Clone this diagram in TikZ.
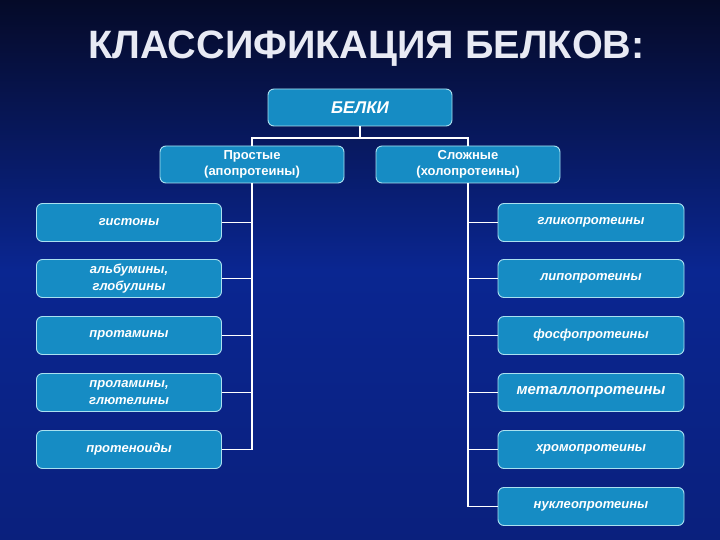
\documentclass[tikz,border=0pt]{standalone}
\usepackage{fontspec}
\setmainfont{Liberation Sans}
\definecolor{bgtop}{RGB}{5,10,40}
\definecolor{bgmid}{RGB}{10,38,145}
\definecolor{bgbot}{RGB}{10,32,125}
\definecolor{boxfill}{RGB}{22,140,196}
\definecolor{boxline}{RGB}{170,225,240}
\definecolor{titlecol}{RGB}{232,234,244}
\tikzset{
  pbox/.style={draw=boxline, line width=0.9pt, fill=boxfill, rounded corners=6pt,
    minimum width=184pt, minimum height=37pt, inner sep=1pt, align=center,
    text=white, font=\fontsize{13}{16}\selectfont\bfseries},
  leaf/.style={pbox, minimum width=185pt, minimum height=38pt,
    font=\fontsize{13}{16.5}\selectfont\bfseries\itshape},
  conn/.style={draw=white, line width=1.6pt}
}
\begin{document}
\begin{tikzpicture}[x=1pt,y=-1pt]
\shade[top color=bgtop, bottom color=bgbot, middle color=bgmid] (0,0) rectangle (720,540);
\useasboundingbox (0,0) rectangle (720,540);
\node[text=titlecol, font=\fontsize{39.6}{42}\selectfont\bfseries, anchor=base, inner sep=0pt] (title) at (366.5,59) {КЛАССИФИКАЦИЯ БЕЛКОВ:};
\node[pbox, font=\fontsize{17}{18}\selectfont\bfseries\itshape] (belki) at (360,107.5) {БЕЛКИ};
\node[pbox] (prost) at (252,164.5) {Простые\\(апопротеины)};
\node[pbox] (slozh) at (468,164.5) {Сложные\\(холопротеины)};
\coordinate (bus) at (360,138);
\node[leaf] (l1) at (129,222.5) {гистоны};
\node[leaf] (l2) at (129,278.5) {альбумины,\\глобулины};
\node[leaf] (l3) at (129,335.5) {протамины};
\node[leaf] (l4) at (129,392.5) {проламины,\\глютелины};
\node[leaf] (l5) at (129,449.5) {протеноиды};
\node[leaf, minimum width=186pt] (r1) at (591,222.5) {гликопротеины};
\node[leaf, minimum width=186pt] (r2) at (591,278.5) {липопротеины};
\node[leaf, minimum width=186pt] (r3) at (591,335.5) {фосфопротеины};
\node[leaf, minimum width=186pt, font=\fontsize{15}{16}\selectfont\bfseries\itshape] (r4) at (591,392.5) {металлопротеины};
\node[leaf, minimum width=186pt] (r5) at (591,449.5) {хромопротеины};
\node[leaf, minimum width=186pt] (r6) at (591,506.5) {нуклеопротеины};
\draw[conn] (belki.south) -- (bus);
\draw[conn] (prost.north) -- (prost.north |- bus) -- (slozh.north |- bus) -- (slozh.north);
\draw[conn] (prost.south) -- (prost.south |- l5.east);
\draw[conn] (slozh.south) -- (slozh.south |- r6.west);
\foreach \n in {l1,l2,l3,l4,l5}{\draw[conn] (\n.east) -- (\n.east -| prost.south);}
\foreach \n in {r1,r2,r3,r4,r5,r6}{\draw[conn] (\n.west) -- (\n.west -| slozh.south);}
\end{tikzpicture}
\end{document}
